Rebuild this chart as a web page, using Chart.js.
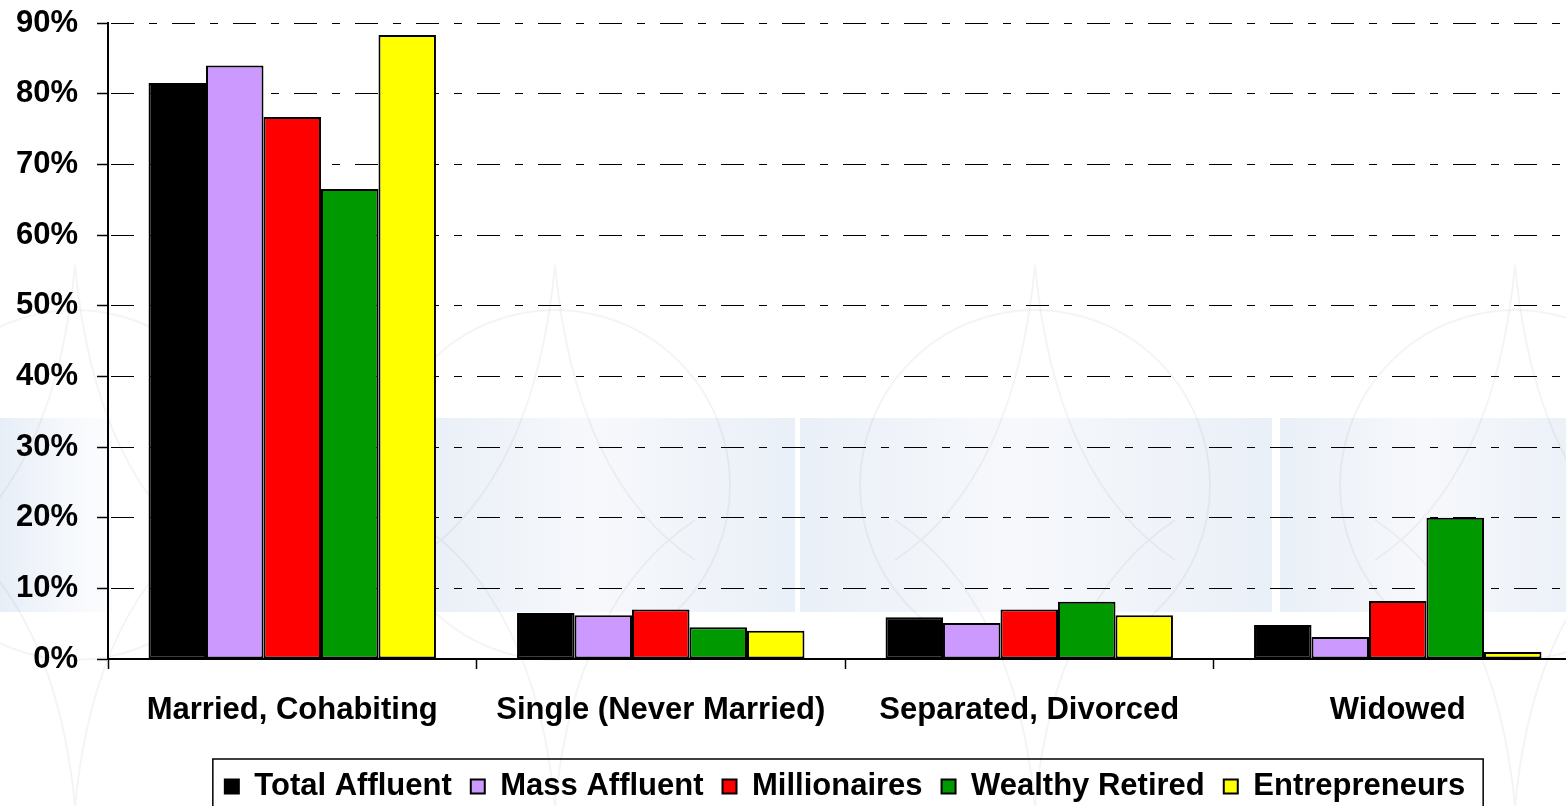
<!DOCTYPE html>
<html>
<head>
<meta charset="utf-8">
<title>Marital status by affluent segment</title>
<script src="https://cdn.jsdelivr.net/npm/chart.js@4/dist/chart.umd.min.js"></script>
<style>
  html, body { margin: 0; padding: 0; background: #ffffff; overflow: hidden; width: 1566px; height: 806px; }
  #wrap { position: absolute; left: 0; top: 0; width: 1600px; height: 806px; }
  canvas { display: block; }
</style>
</head>
<body>
<div id="wrap"><canvas id="chart" width="1600" height="806"></canvas></div>
<script>
// Categories and series (percent of each segment)
const categories = ['Married, Cohabiting', 'Single (Never Married)', 'Separated, Divorced', 'Widowed'];
const seriesNames = ['Total Affluent', 'Mass Affluent', 'Millionaires', 'Wealthy Retired', 'Entrepreneurs'];
const totalAffluent  = [81.5, 6.5, 5.9, 4.8];
const massAffluent   = [84.0, 6.2, 5.1, 3.1];
const millionaires   = [76.7, 7.0, 7.0, 8.2];
const wealthyRetired = [66.5, 4.5, 8.1, 20.0];
const entrepreneurs  = [88.3, 4.0, 6.2, 1.0];
const yTickValues = [0, 10, 20, 30, 40, 50, 60, 70, 80, 90];
const seriesColors = ['#000000', '#cc99ff', '#ff0000', '#009900', '#ffff00'];

const seriesValues = [totalAffluent, massAffluent, millionaires, wealthyRetired, entrepreneurs];
const FONT = '"Liberation Sans", Arial, Helvetica, sans-serif';

// Faint decorative backdrop: soft blue band and light ring motifs
const backdrop = {
  id: 'backdrop',
  beforeDraw(chart) {
    const ctx = chart.ctx;
    const W = chart.width;
    ctx.save();
    ctx.fillStyle = '#ffffff';
    ctx.fillRect(0, 0, W, chart.height);

    const bandTop = 418, bandH = 194;
    const segments = [[0, 112], [432, 795], [800, 1272], [1280, W]];
    segments.forEach(([x0, x1], i) => {
      const g = ctx.createLinearGradient(x0, 0, x1, 0);
      if (i === 0) {
        g.addColorStop(0, 'rgba(228,236,246,0.9)');
        g.addColorStop(1, 'rgba(248,250,253,0.5)');
      } else {
        g.addColorStop(0, 'rgba(230,237,246,0.85)');
        g.addColorStop(0.45, 'rgba(245,247,251,0.85)');
        g.addColorStop(1, 'rgba(230,237,246,0.85)');
      }
      ctx.fillStyle = g;
      ctx.fillRect(x0, bandTop, x1 - x0, bandH);
    });

    ctx.strokeStyle = 'rgba(0,0,0,0.045)';
    ctx.lineWidth = 2;
    [75, 555, 1035, 1515].forEach(cx => {
      ctx.beginPath();
      ctx.arc(cx, 485, 175, 0, Math.PI * 2);
      ctx.stroke();
      ctx.beginPath();
      ctx.moveTo(cx, 265);
      ctx.quadraticCurveTo(cx + 20, 480, cx + 140, 560);
      ctx.moveTo(cx, 265);
      ctx.quadraticCurveTo(cx - 20, 480, cx - 140, 560);
      ctx.moveTo(cx, 806);
      ctx.quadraticCurveTo(cx + 20, 600, cx + 140, 520);
      ctx.moveTo(cx, 806);
      ctx.quadraticCurveTo(cx - 20, 600, cx - 140, 520);
      ctx.stroke();
    });
    ctx.restore();
  }
};

// Box drawn around the legend row
const legendFrame = {
  id: 'legendFrame',
  afterDraw(chart) {
    const lg = chart.legend;
    if (!lg || !lg.legendHitBoxes || !lg.legendHitBoxes.length) return;
    const boxes = lg.legendHitBoxes;
    const left = Math.min(...boxes.map(b => b.left)) - 12;
    const right = Math.max(...boxes.map(b => b.left + b.width)) + 18;
    const top = Math.min(...boxes.map(b => b.top)) - 12;
    const ctx = chart.ctx;
    ctx.save();
    ctx.strokeStyle = '#000000';
    ctx.lineWidth = 1.5;
    ctx.strokeRect(left, top, right - left, chart.height + 10 - top);
    ctx.restore();
  }
};

const datasets = seriesNames.map((name, i) => ({
  label: name,
  data: seriesValues[i],
  backgroundColor: seriesColors[i],
  borderColor: '#000000',
  borderWidth: 2,
  borderSkipped: false,
  barPercentage: 1.0,
  categoryPercentage: 0.78
}));

new Chart(document.getElementById('chart'), {
  type: 'bar',
  data: { labels: categories, datasets },
  plugins: [backdrop, legendFrame],
  options: {
    responsive: false,
    animation: false,
    devicePixelRatio: 1,
    layout: { padding: { top: 23, right: 18, bottom: 0, left: 0 } },
    plugins: {
      tooltip: { enabled: false },
      legend: {
        position: 'bottom',
        fullSize: false,
        maxHeight: 54,
        labels: {
          color: '#000000',
          font: { family: FONT, size: 31, weight: 'bold' },
          boxWidth: 14,
          boxHeight: 14,
          padding: 19
        }
      }
    },
    scales: {
      x: {
        afterFit(scale) { scale.height = 93; },
        grid: {
          offset: true,
          drawOnChartArea: false,
          drawTicks: true,
          tickLength: 10,
          tickWidth: 1.5,
          tickColor: '#000000',
          tickBorderDash: []
        },
        border: { display: true, color: '#000000', width: 2 },
        ticks: {
          color: '#000000',
          padding: 23,
          maxRotation: 0,
          autoSkip: false,
          font: { family: FONT, size: 31, weight: 'bold' }
        }
      },
      y: {
        min: 0,
        max: 90,
        afterFit(scale) {
          scale.width = 108;
          scale.paddingTop = 0;
          scale.paddingBottom = 0;
        },
        afterBuildTicks(scale) { scale.ticks = yTickValues.map(v => ({ value: v })); },
        grid: {
          color: '#000000',
          lineWidth: 1,
          drawTicks: true,
          tickLength: 11,
          tickWidth: 1.5,
          tickColor: '#000000',
          tickBorderDash: []
        },
        border: { display: true, color: '#000000', width: 2, dash: [23, 15, 8, 15], dashOffset: 59 },
        ticks: {
          color: '#000000',
          padding: 19,
          font: { family: FONT, size: 31, weight: 'bold' },
          callback: v => v + '%'
        }
      }
    }
  }
});
</script>
</body>
</html>
